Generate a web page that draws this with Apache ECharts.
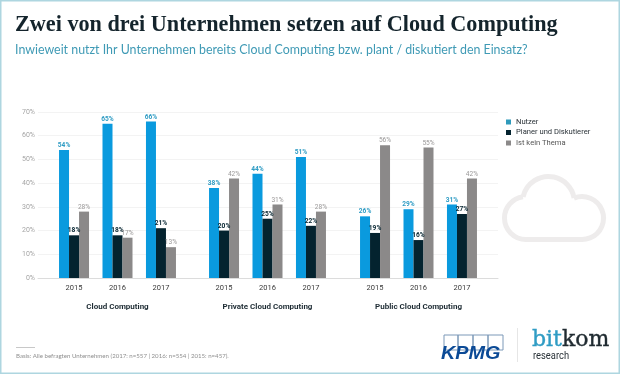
<!DOCTYPE html>
<html>
<head>
<meta charset="utf-8">
<title>Cloud Computing</title>
<script src="https://cdn.jsdelivr.net/npm/echarts@6/dist/echarts.min.js"></script>
<style>
html,body{margin:0;padding:0;background:#fff;}
#main{width:620px;height:374px;}
</style>
</head>
<body>
<div id="main"></div>
<script>
var years = ['2015', '2016', '2017'];
var groups = ['Cloud Computing', 'Private Cloud Computing', 'Public Cloud Computing'];
var seriesNames = ['Nutzer', 'Planer und Diskutierer', 'Ist kein Thema'];
var nutzer = [[54, 65, 66], [38, 44, 51], [26, 29, 31]];
var planer = [[18, 18, 21], [20, 25, 22], [19, 16, 27]];
var keinThema = [[28, 17, 13], [42, 31, 28], [56, 55, 42]];

var blue = '#0a9ade', dark = '#04232f', gray = '#8b8989';
var font = 'Roboto';
var top0 = 112, bottom0 = 96;
var groupLeft = [52.3, 202.3, 353.3];
var groupWidth = 130.4;

var grids = [{left: 38, right: 122, top: top0, bottom: bottom0}];
var xAxes = [{
    type: 'category', gridIndex: 0, data: [''],
    axisTick: {show: false}, axisLabel: {show: false},
    axisLine: {lineStyle: {color: '#dcdcdc', width: 1}}
}];
var yAxes = [{
    type: 'value', gridIndex: 0, min: 0, max: 70, interval: 10,
    axisLine: {show: false}, axisTick: {show: false},
    axisLabel: {formatter: '{value}%', color: '#a5a5a5', fontSize: 7, fontFamily: font, margin: 3},
    splitLine: {lineStyle: {color: '#f3f3f3', width: 1}}
}];
var series = [
    // hintergrund-raster
    {type: 'bar', xAxisIndex: 0, yAxisIndex: 0, data: [], silent: true}
];

function makeBar(name, values, gi, color, textColor, bold, halo) {
    return {
        name: name, type: 'bar', xAxisIndex: gi, yAxisIndex: gi,
        data: values, barWidth: 10, barGap: 0, itemStyle: {color: color},
        label: {
            show: true, position: 'top', distance: 1, formatter: '{c}%',
            color: textColor, fontSize: 6.6, fontFamily: font,
            fontWeight: bold ? 'bold' : 'normal',
            textBorderColor: '#fff', textBorderWidth: halo
        }
    };
}

groups.forEach(function (g, i) {
    var gi = i + 1;
    grids.push({left: groupLeft[i], width: groupWidth, top: top0, bottom: bottom0});
    xAxes.push({
        type: 'category', gridIndex: gi, data: years,
        axisTick: {show: false}, axisLine: {show: false},
        axisLabel: {color: '#3a3a3a', fontSize: 7.5, fontFamily: font, margin: 6},
        name: g, nameLocation: 'middle', nameGap: 25,
        nameTextStyle: {color: '#1d2b33', fontSize: 8, fontWeight: 'bold', fontFamily: font}
    });
    yAxes.push({type: 'value', gridIndex: gi, min: 0, max: 70, interval: 10, show: false});
    series.push(makeBar(seriesNames[0], nutzer[i], gi, blue, '#2f9cc4', true, 0));
    series.push(makeBar(seriesNames[1], planer[i], gi, dark, '#04232f', true, 0));
    series.push(makeBar(seriesNames[2], keinThema[i], gi, gray, '#9a9898', false, 0));
});

var myChart = echarts.init(document.getElementById('main'), null, {renderer: 'canvas'});
var deg = Math.PI / 180;
var cloudStyle = {fill: 'none', stroke: '#eeecec', lineWidth: 5};
var boxStyle = {fill: 'none', stroke: '#7d99b8', lineWidth: 1};

var option = {
    backgroundColor: '#fff',
    animation: false,
    title: [
        {
            text: 'Zwei von drei Unternehmen setzen auf Cloud Computing',
            left: 10, top: 9,
            textStyle: {fontFamily: 'Liberation Serif', fontSize: 22.2, fontWeight: 'bold', color: '#14242c'}
        },
        {
            text: 'Inwieweit nutzt Ihr Unternehmen bereits Cloud Computing bzw. plant / diskutiert den Einsatz?',
            left: 10, top: 39,
            textStyle: {fontFamily: 'Lato', fontSize: 12.4, fontWeight: 'normal', color: '#3f9ab5'}
        }
    ],
    legend: {
        orient: 'vertical', left: 501, top: 113, itemWidth: 5, itemHeight: 5, itemGap: 2.5, icon: 'rect',
        textStyle: {fontFamily: font, fontSize: 7.6, color: '#2a3238'},
        data: [
            {name: seriesNames[0], itemStyle: {color: '#2f9abb'}},
            {name: seriesNames[1], itemStyle: {color: dark}},
            {name: seriesNames[2], itemStyle: {color: gray}, textStyle: {color: '#555'}}
        ]
    },
    grid: grids,
    xAxis: xAxes,
    yAxis: yAxes,
    series: series,
    graphic: [
        {type: 'rect', z: 100, shape: {x: 0.5, y: 0.5, width: 619, height: 373}, style: {fill: 'none', stroke: '#aed6e0', lineWidth: 2}},
        // wolke
        {type: 'arc', shape: {cx: 582, cy: 218, r: 21.5, startAngle: -112 * deg, endAngle: 90 * deg, clockwise: true}, style: cloudStyle},
        {type: 'arc', shape: {cx: 548.5, cy: 202.5, r: 26, startAngle: -168 * deg, endAngle: -10 * deg, clockwise: true}, style: cloudStyle},
        {type: 'arc', shape: {cx: 526, cy: 218, r: 21.5, startAngle: 90 * deg, endAngle: 262 * deg, clockwise: true}, style: cloudStyle},
        {type: 'line', shape: {x1: 526, y1: 239.5, x2: 582, y2: 239.5}, style: {stroke: '#eeecec', lineWidth: 5}},
        {type: 'rect', shape: {x: 16, y: 347, width: 19, height: 1}, style: {fill: '#c8c8c8'}},
        {type: 'text', x: 16, y: 353.5, style: {text: 'Basis: Alle befragten Unternehmen (2017: n=557 | 2016: n=554 | 2015: n=457).', fontFamily: 'Lato', fontSize: 6.1, fill: '#8f8f8f'}},
        // KPMG
        {type: 'rect', shape: {x: 444, y: 335, width: 14, height: 15}, style: boxStyle},
        {type: 'rect', shape: {x: 458, y: 335, width: 15, height: 15}, style: boxStyle},
        {type: 'rect', shape: {x: 473, y: 335, width: 15, height: 15}, style: boxStyle},
        {type: 'rect', shape: {x: 488, y: 335, width: 15, height: 15}, style: boxStyle},
        {type: 'text', x: 441, y: 345, scaleX: 1.13, style: {text: 'KPMG', fontFamily: 'Liberation Sans', fontStyle: 'italic', fontWeight: 'bold', fontSize: 17.5, fill: '#0b4a96'}},
        {type: 'rect', shape: {x: 517, y: 328, width: 1, height: 34}, style: {fill: '#e6e6e6'}},
        // bitkom
        {type: 'text', x: 532, y: 329.5, style: {text: 'bit', fontFamily: 'DejaVu Serif', fontSize: 22, fill: '#2f9cc4', stroke: '#2f9cc4', lineWidth: 0.4}},
        {type: 'text', x: 562, y: 329.5, style: {text: 'kom', fontFamily: 'DejaVu Serif', fontSize: 22, fill: '#1f2a30', stroke: '#1f2a30', lineWidth: 0.4}},
        {type: 'text', x: 533, y: 351, scaleX: 0.85, style: {text: 'research', fontFamily: font, fontSize: 11, fill: '#2a3238'}}
    ]
};

myChart.setOption(option);
window.onresize = myChart.resize;
</script>
</body>
</html>
